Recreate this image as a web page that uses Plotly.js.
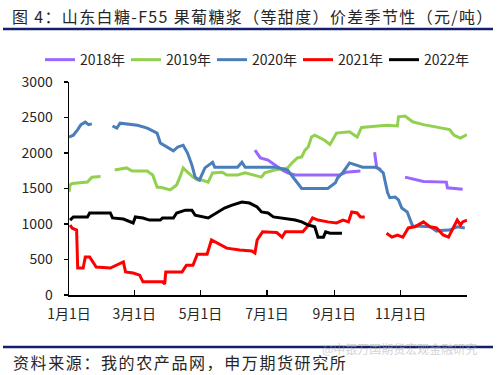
<!DOCTYPE html>
<html>
<head>
<meta charset="utf-8">
<script src="https://cdn.plot.ly/plotly-3.0.1.min.js"></script>
<style>html,body{margin:0;padding:0;background:#fff;}#chart{width:500px;height:375px;}</style>
</head>
<body>
<div id="chart"></div>
<script>
// Day of year (0 = Jan 1) and spread values (元/吨); null = gap
const seriesNames = ["2018年", "2019年", "2020年", "2021年", "2022年"];
const seriesColors = ["#9966FF", "#92D050", "#4A7EBB", "#FF0000", "#000000"];

const x2018 = [171,176,183,189,196,201,208,249,255,268,null,281,283,287,null,309,320,326,347,348,362];
const y2018 = [2040,1930,1900,1830,1760,1720,1690,1690,1730,1745,null,2010,1790,1770,null,1660,1620,1600,1590,1510,1490];

const x2019 = [0,1,3,10,17,21,29,null,42,53,58,72,74,77,81,86,93,99,102,105,109,114,118,122,128,132,141,145,155,162,177,180,189,201,205,210,214,217,220,223,226,235,240,246,258,265,269,283,292,302,303,309,316,326,338,350,354,360,366];
const y2019 = [1450,1550,1570,1575,1590,1660,1670,null,1760,1790,1745,1745,1720,1690,1520,1510,1480,1550,1660,1790,1730,1660,1620,1620,1590,1720,1730,1690,1690,1720,1660,1720,1760,1790,1860,1930,1945,2040,2085,2225,2250,2180,2120,2280,2300,2225,2360,2380,2390,2380,2510,2520,2440,2400,2360,2330,2250,2210,2260];

const x2020 = [0,4,8,11,15,18,21,null,40,44,47,53,63,72,81,84,90,96,100,105,109,113,116,120,125,132,134,155,159,162,190,201,208,214,238,245,247,252,258,265,270,283,286,289,291,293,295,300,303,306,311,314,316,323,332,338,341,350,357,364];
const y2020 = [2225,2250,2330,2400,2435,2400,2410,null,2380,2350,2420,2410,2390,2350,2280,2140,2085,2030,2085,2110,2000,1830,1660,1620,1790,1870,1800,1800,1870,1800,1800,1760,1620,1500,1500,1580,1650,1730,1860,1830,1800,1800,1760,1720,1580,1440,1370,1380,1340,1225,1170,1060,970,970,960,900,910,915,960,945];

const x2021 = [1,3,7,8,13,15,19,25,38,44,50,52,59,65,68,86,88,89,104,108,114,118,127,131,136,145,157,168,171,173,178,191,196,199,215,219,224,229,238,246,252,257,260,265,268,272,null,292,297,302,307,312,318,326,332,338,344,349,353,357,360,362,366];
const y2021 = [985,940,915,380,380,535,535,395,380,420,465,325,310,280,185,185,155,325,325,420,420,575,575,775,730,660,635,620,590,775,890,880,815,890,890,960,1085,1055,1030,1015,1055,1030,1170,1155,1100,1100,null,870,815,845,815,945,960,1030,960,945,845,815,945,1055,985,1030,1055];

const x2022 = [1,4,17,19,38,40,50,56,59,61,68,74,84,86,96,99,107,113,116,128,132,137,143,150,159,166,173,177,183,188,196,208,214,220,226,229,234,236,240,251];
const y2022 = [1055,1100,1100,1155,1155,1085,1070,1030,1015,1100,1085,1055,1055,1085,1085,1155,1195,1195,1125,1085,1125,1170,1225,1265,1310,1295,1240,1170,1155,1100,1085,1055,1030,985,960,815,815,890,870,870];

const xTickVals = [0, 60, 121, 182, 244, 305, 366];
const xTickText = ["1月1日", "3月1日", "5月1日", "7月1日", "9月1日", "11月1日", ""];
const yTickVals = [0, 500, 1000, 1500, 2000, 2500, 3000];

const titleText = "图 4：山东白糖-F55 果葡糖浆（等甜度）价差季节性（元/吨）";
const sourceText = "资料来源：我的农产品网，申万期货研究所";
const watermarkText = "@申银万国期货宏观金融研究";

const xs = [x2018, x2019, x2020, x2021, x2022];
const ys = [y2018, y2019, y2020, y2021, y2022];

const traces = seriesNames.map((name, i) => ({
  type: "scatter", mode: "lines", name: name,
  x: xs[i], y: ys[i], connectgaps: false,
  line: {color: seriesColors[i], width: 3}
}));

const FONT = "Noto Sans CJK SC, Noto Sans, sans-serif";
const navy = "#14206E";

const layout = {
  width: 500, height: 375,
  margin: {l: 69, r: 33, t: 82, b: 80, pad: 0},
  paper_bgcolor: "#fff", plot_bgcolor: "#fff",
  font: {family: FONT, size: 14, color: "#262626"},
  showlegend: true,
  legend: {orientation: "h", x: -0.0729, xanchor: "left", y: 1.103, yanchor: "middle",
           font: {family: FONT, size: 14, color: "#262626"}, itemwidth: 30,
           entrywidth: 41, entrywidthmode: "pixels", borderwidth: 0,
           bgcolor: "rgba(0,0,0,0)", traceorder: "normal"},
  xaxis: {range: [0, 366], tickmode: "array", tickvals: xTickVals, ticktext: xTickText,
          showgrid: false, zeroline: false, showline: true, linecolor: "#000", linewidth: 1.5,
          ticks: "inside", ticklen: 5, tickcolor: "#000", tickwidth: 1.5,
          tickfont: {family: FONT, size: 14, color: "#262626"}, ticklabelstandoff: 6, fixedrange: true},
  yaxis: {range: [0, 3000], tickmode: "array", tickvals: yTickVals,
          showgrid: false, zeroline: false, showline: true, linecolor: "#000", linewidth: 1.5,
          ticks: "outside", ticklen: 4, tickcolor: "#000", tickwidth: 1.5,
          tickfont: {family: FONT, size: 14, color: "#262626"}, ticklabelstandoff: 8, fixedrange: true},
  shapes: [
    {type: "line", xref: "paper", yref: "paper", x0: -0.1658, x1: 1.0653, y0: 1.249, y1: 1.249,
     line: {color: navy, width: 2.5}},
    {type: "line", xref: "paper", yref: "paper", x0: -0.1658, x1: 1.0653, y0: -0.244, y1: -0.244,
     line: {color: navy, width: 2.5}}
  ],
  annotations: [
    {text: titleText, xref: "paper", yref: "paper", x: -0.145, y: 1.31, xanchor: "left", yanchor: "middle",
     showarrow: false, font: {family: FONT, size: 16, color: "#262626"}},
    {text: sourceText, xref: "paper", yref: "paper", x: -0.145, y: -0.3146, xanchor: "left", yanchor: "middle",
     showarrow: false, font: {family: FONT, size: 16, color: "#262626"}},
    {text: watermarkText, xref: "paper", yref: "paper", x: 1.03, y: -0.252, xanchor: "right", yanchor: "middle",
     showarrow: false, font: {family: FONT, size: 12, color: "rgba(170,170,170,0.55)"}}
  ]
};

Plotly.newPlot("chart", traces, layout, {displayModeBar: false, staticPlot: true}).then(() => {
  // widen the letter spacing of title and source line, keeping their left edges in place
  const spacing = [1.35, 1.6];
  const leftEdge = [12, 13];
  const texts = document.querySelectorAll(".annotation-text");
  spacing.forEach((s, i) => {
    const t = texts[i];
    if (!t) return;
    t.style.letterSpacing = s + "px";
    const dx = leftEdge[i] - t.getBoundingClientRect().left;
    const x0 = parseFloat(t.getAttribute("x")) || 0;
    t.setAttribute("x", x0 + dx);
  });
});
</script>
</body>
</html>
